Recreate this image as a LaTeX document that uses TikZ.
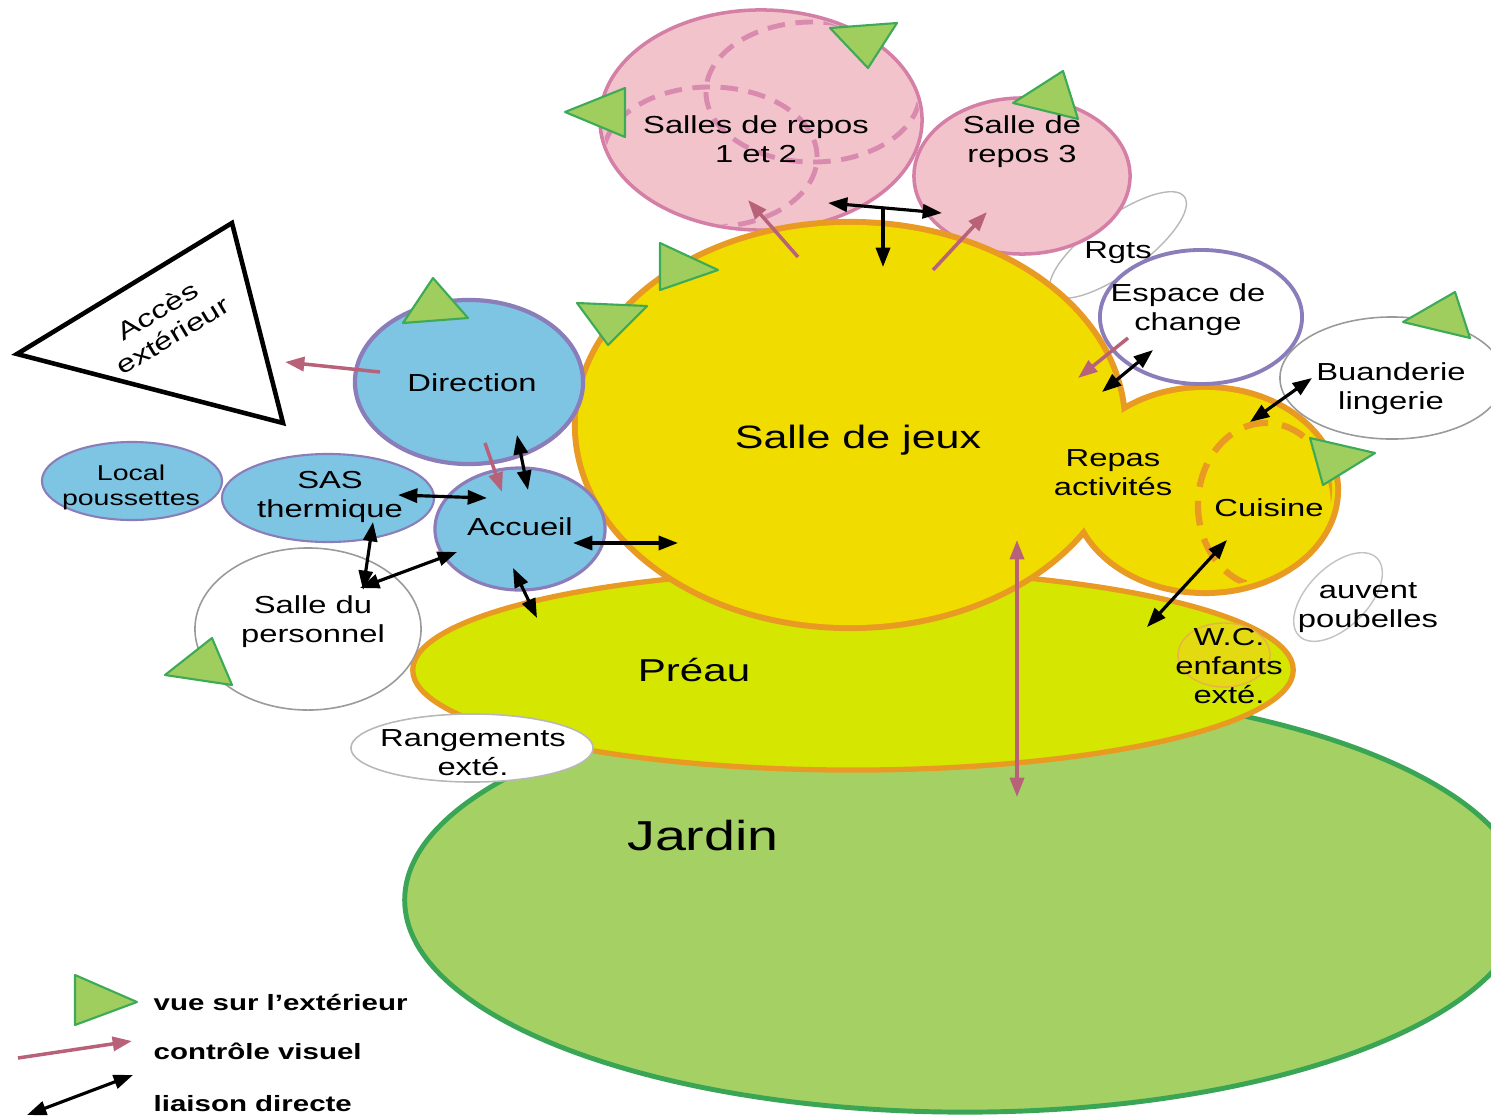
\documentclass[tikz,border=0pt]{standalone}
\usepackage{fontspec}
\setmainfont{Liberation Sans}[FakeStretch=1.33]
\usetikzlibrary{arrows.meta,shapes.geometric}
\definecolor{jeux}{HTML}{F1DC00}
\definecolor{bord}{HTML}{E99A22}
\definecolor{preau}{HTML}{D5E600}
\definecolor{jardin}{HTML}{A5D164}
\definecolor{jardinb}{HTML}{3AA655}
\definecolor{rose}{HTML}{F2C3CB}
\definecolor{roseb}{HTML}{D47FA6}
\definecolor{rosed}{HTML}{D98BAF}
\definecolor{bleu}{HTML}{7EC4E3}
\definecolor{violet}{HTML}{8A7DB9}
\definecolor{vert}{HTML}{9FCD5E}
\definecolor{vertb}{HTML}{3DAA57}
\definecolor{mauve}{HTML}{B8627A}
\definecolor{gris}{HTML}{9A9A9A}
\definecolor{wcfill}{HTML}{E3DA12}
\definecolor{wcb}{HTML}{E8B24A}
\begin{document}
\begin{tikzpicture}[x=0.01cm,y=-0.01cm,
  room/.style={ellipse,inner sep=0pt},
  lab/.style={align=center,font=\fontsize{7}{8.2}\selectfont,inner sep=0pt,text=black},
  viewtri/.style={fill=vert,draw=vertb,line width=0.6pt,line join=round},
  ctrl/.style={draw=mauve,line width=1pt,-{Triangle[length=5.5pt,width=4pt]}},
  ctrlboth/.style={draw=mauve,line width=1pt,{Triangle[length=5.5pt,width=4pt]}-{Triangle[length=5.5pt,width=4pt]}},
  link/.style={draw=black,line width=0.9pt,{Triangle[length=5.5pt,width=4pt]}-{Triangle[length=5.5pt,width=4pt]}},
  linkone/.style={draw=black,line width=0.9pt,-{Triangle[length=5.5pt,width=4pt]}},
  thin room/.style={room,fill=white,draw=gris,line width=0.45pt},
  legtext/.style={anchor=base west,inner sep=0pt,font=\fontsize{6.3}{7}\selectfont\bfseries}
]
\useasboundingbox (0,0) rectangle (1491,1118);
\clip (0,0) rectangle (1491,1118);

% Jardin and Preau
\node[room,fill=jardin,draw=jardinb,line width=1.4pt,minimum width=11.2cm,minimum height=4.24cm] (jardin) at (965,900) {};
\node[room,fill=preau,draw=bord,line width=1.5pt,minimum width=8.8cm,minimum height=2cm] (preau) at (853,670) {};
\node[thin room,draw=gris!70,minimum width=2.42cm,minimum height=0.68cm] (rang) at (472,748) {};
\node[room,fill=wcfill,draw=wcb,line width=0.4pt,minimum width=0.92cm,minimum height=0.64cm] (wc) at (1224,655) {};

% Rgts
\node[room,draw=gris!70,line width=0.4pt,minimum width=1.64cm,minimum height=0.56cm,rotate=36] (rgts) at (1118,245) {};

% Salles de repos
\node[room,fill=rose,draw=roseb,line width=1pt,minimum width=3.22cm,minimum height=2.2cm] (repos12) at (761,120) {};
\begin{scope}
  \clip (761,120) ellipse [x radius=1.585cm,y radius=1.075cm];
  \draw[rosed,line width=1.4pt,dash pattern=on 5pt off 3pt] (813,92) ellipse [x radius=1.07cm,y radius=0.70cm];
  \draw[rosed,line width=1.4pt,dash pattern=on 5pt off 3pt] (710,157) ellipse [x radius=1.07cm,y radius=0.70cm];
\end{scope}
\node[room,fill=rose,draw=roseb,line width=1pt,minimum width=2.16cm,minimum height=1.56cm] (repos3) at (1022,176) {};

% Salle de jeux + repas / cuisine (merged outline)
\path[draw=bord,line width=3.4pt] (850,425) ellipse [x radius=2.72cm,y radius=2cm]
  (1205,490) ellipse [x radius=1.3cm,y radius=1cm];
\path[fill=jeux] (850,425) ellipse [x radius=2.72cm,y radius=2cm]
  (1205,490) ellipse [x radius=1.3cm,y radius=1cm];
\coordinate (jeuxc) at (850,425);
\begin{scope}
  \clip (1205,490) ellipse [x radius=1.27cm,y radius=0.97cm];
  \draw[bord,line width=1.8pt,dash pattern=on 7pt off 4pt] (1266,505) ellipse [x radius=0.68cm,y radius=0.82cm];
\end{scope}

% other rooms
\node[room,fill=white,draw=violet,line width=1.1pt,minimum width=2.02cm,minimum height=1.34cm] (change) at (1201,317) {};
\node[thin room,minimum width=2.24cm,minimum height=1.22cm] (buand) at (1392,378) {};
\node[room,draw=gris!60,line width=0.4pt,minimum width=1.1cm,minimum height=0.6cm,rotate=45] (auvent) at (1338,597) {};
\node[thin room,minimum width=2.26cm,minimum height=1.62cm] (perso) at (308,629) {};
\node[room,fill=bleu,draw=violet,line width=1.2pt,minimum width=2.28cm,minimum height=1.64cm] (direction) at (469,382) {};
\node[room,fill=bleu,draw=violet,line width=0.9pt,minimum width=1.7cm,minimum height=1.22cm] (accueil) at (520,529) {};
\node[room,fill=bleu,draw=violet,line width=0.6pt,minimum width=2.12cm,minimum height=0.88cm] (sas) at (328,498) {};
\node[room,fill=bleu,draw=violet,line width=0.6pt,minimum width=1.8cm,minimum height=0.78cm] (local) at (132,481) {};

% Acces exterieur
\draw[black,line width=1.3pt,line join=miter] (17,354) -- (232,223) -- (283,423) -- cycle;

% vue sur l'exterieur markers
\filldraw[viewtri] (830,28) -- (897,23) -- (868,68) -- cycle;
\filldraw[viewtri] (565,112) -- (625,88) -- (625,137) -- cycle;
\filldraw[viewtri] (1013,103) -- (1063,71) -- (1078,119) -- cycle;
\filldraw[viewtri] (660,243) -- (660,290) -- (718,270) -- cycle;
\filldraw[viewtri] (577,303) -- (647,306) -- (608,345) -- cycle;
\filldraw[viewtri] (403,323) -- (433,278) -- (468,318) -- cycle;
\filldraw[viewtri] (165,675) -- (212,638) -- (232,685) -- cycle;
\filldraw[viewtri] (1403,322) -- (1455,292) -- (1470,338) -- cycle;
\filldraw[viewtri] (1310,438) -- (1375,453) -- (1323,485) -- cycle;

% labels
\node[lab] (t12) at (756,139) {Salles de repos\\1 et 2};
\node[lab] (t3) at (1022,142) {Salle de\\repos 3};
\node[lab] (trgts) at (1118,253) {Rgts};
\node[lab] (tchange) at (1188,310) {Espace de\\change};
\node[lab] (tbuand) at (1391,389) {Buanderie\\lingerie};
\node[lab] (tdir) at (472,383) {Direction};
\node[lab,font=\fontsize{9.2}{10}\selectfont] (tjeux) at (858,440) {Salle de jeux};
\node[lab] (trepas) at (1113,473) {Repas\\activités};
\node[lab] (tcuis) at (1269,508) {Cuisine};
\node[lab,font=\fontsize{6.1}{7.1}\selectfont] (tlocal) at (131,487) {Local\\poussettes};
\node[lab] (tsas) at (330,497) {SAS\\thermique};
\node[lab] (taccueil) at (520,527) {Accueil};
\node[lab] (tperso) at (313,622) {Salle du\\personnel};
\node[lab,font=\fontsize{9}{10}\selectfont] (tpreau) at (694,670) {Préau};
\node[lab] (twc) at (1229,666) {W.C.\\enfants\\exté.};
\node[lab] (tauvent) at (1368,608) {auvent\\poubelles};
\node[lab] (trang) at (473,753) {Rangements\\exté.};
\node[lab,font=\fontsize{11.9}{13}\selectfont] (tjardin) at (703,836) {Jardin};
\node[lab,rotate=31] (tacces) at (165,323) {Accès\\extérieur};

% arrow end points
\coordinate (m1a) at (798,257); \coordinate (m1b) at (748,200);
\coordinate (m2a) at (933,270); \coordinate (m2b) at (987,212);
\coordinate (m3a) at (380,372); \coordinate (m3b) at (285,362);
\coordinate (m4a) at (485,443); \coordinate (m4b) at (502,492);
\coordinate (m5a) at (1128,338); \coordinate (m5b) at (1078,378);
\coordinate (m6a) at (1017,540); \coordinate (m6b) at (1017,797);
\coordinate (b1a) at (828,203); \coordinate (b1b) at (942,213);
\coordinate (b1m) at (883,208); \coordinate (b1d) at (883,267);
\coordinate (b2a) at (517,435); \coordinate (b2b) at (528,490);
\coordinate (b3a) at (398,495); \coordinate (b3b) at (487,498);
\coordinate (b4a) at (573,543); \coordinate (b4b) at (678,543);
\coordinate (b5a) at (513,568); \coordinate (b5b) at (537,618);
\coordinate (b6a) at (373,522); \coordinate (b6b) at (363,590);
\coordinate (b7a) at (360,588); \coordinate (b7b) at (457,552);
\coordinate (b8a) at (1102,392); \coordinate (b8b) at (1153,350);
\coordinate (b9a) at (1250,422); \coordinate (b9b) at (1312,378);
\coordinate (b10a) at (1227,540); \coordinate (b10b) at (1147,627);

% controle visuel
\draw[ctrl] (m1a) -- (m1b);
\draw[ctrl] (m2a) -- (m2b);
\draw[ctrl] (m3a) -- (m3b);
\draw[ctrl] (m4a) -- (m4b);
\draw[ctrl] (m5a) -- (m5b);
\draw[ctrlboth] (m6a) -- (m6b);

% liaison directe
\draw[link] (b1a) -- (b1b);
\draw[linkone] (b1m) -- (b1d);
\draw[link] (b2a) -- (b2b);
\draw[link] (b3a) -- (b3b);
\draw[link] (b4a) -- (b4b);
\draw[link] (b5a) -- (b5b);
\draw[link] (b6a) -- (b6b);
\draw[link] (b7a) -- (b7b);
\draw[link] (b8a) -- (b8b);
\draw[link] (b9a) -- (b9b);
\draw[link] (b10a) -- (b10b);

% legend
\filldraw[viewtri] (75,975) -- (75,1025) -- (137,1002) -- cycle;
\coordinate (lm1) at (18,1058); \coordinate (lm2) at (132,1041);
\coordinate (lb1) at (27,1115); \coordinate (lb2) at (133,1075);
\draw[ctrl] (lm1) -- (lm2);
\draw[link] (lb1) -- (lb2);
\node[legtext] (l1) at (153,1010) {vue sur l’extérieur};
\node[legtext] (l2) at (153,1059) {contrôle visuel};
\node[legtext] (l3) at (153,1111) {liaison directe};
\end{tikzpicture}
\end{document}
